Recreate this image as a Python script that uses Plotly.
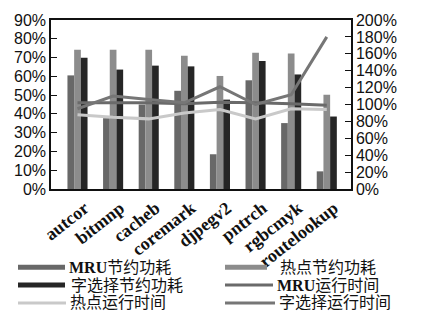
import plotly.graph_objects as go

# Benchmarks
categories = ["autcor", "bitmnp", "cacheb", "coremark", "djpegv2", "pntrch", "rgbcmyk", "routelookup"]

# Power savings (%), left axis
mru_saving = [60.5, 37.7, 45.0, 52.3, 18.5, 57.9, 35.1, 9.4]
hot_saving = [74.1, 74.1, 74.1, 71.0, 60.2, 72.5, 72.2, 50.2]
word_saving = [69.9, 63.6, 65.7, 65.3, 47.6, 68.2, 61.0, 38.6]

# Relative run time (%), right axis
mru_time = [102, 102, 102, 101, 102.6, 102, 101, 99]
hot_time = [88, 85, 83, 90, 94, 83, 95, 94]
word_time = [95, 110, 106, 102, 121, 100, 111.5, 180]

left_ticks = list(range(0, 91, 10))
right_ticks = list(range(0, 201, 20))

C_MRU_BAR = "#686868"
C_HOT_BAR = "#8c8c8c"
C_WORD_BAR = "#262626"
C_MRU_LINE = "#6a6a6a"
C_HOT_LINE = "#c9c9c9"
C_WORD_LINE = "#767676"

fig = go.Figure()
for name, vals, col in [("MRU节约功耗", mru_saving, C_MRU_BAR),
                        ("热点节约功耗", hot_saving, C_HOT_BAR),
                        ("字选择节约功耗", word_saving, C_WORD_BAR)]:
    fig.add_trace(go.Bar(x=categories, y=vals, name=name, marker_color=col,
                         marker_line_width=0, yaxis="y", showlegend=False))

for name, vals, col in [("MRU运行时间", mru_time, C_MRU_LINE),
                        ("热点运行时间", hot_time, C_HOT_LINE),
                        ("字选择运行时间", word_time, C_WORD_LINE)]:
    fig.add_trace(go.Scatter(x=categories, y=vals, name=name, mode="lines",
                             line=dict(color=col, width=3), yaxis="y2", showlegend=False))

W, H = 421, 322
ML, MR, MT, MB = 51, 70, 14, 133
PW, PH = W - ML - MR, H - MT - MB


def px(x):
    return (x - ML) / PW


def py(y):
    return (H - MB - y) / PH


# Legend drawn as line samples plus labels
legend_items = [
    ("<b>MRU</b>节约功耗", C_MRU_BAR, 5, 18, 65, 67, 270),
    ("热点节约功耗", C_HOT_BAR, 5, 225, 267, 278, 270),
    ("字选择节约功耗", C_WORD_BAR, 5, 18, 65, 69, 288.5),
    ("<b>MRU</b>运行时间", C_MRU_LINE, 3, 225, 273, 275, 288.5),
    ("热点运行时间", C_HOT_LINE, 3, 18, 66, 68, 307),
    ("字选择运行时间", C_WORD_LINE, 3, 225, 275, 277, 307),
]
shapes = []
annotations = []
for text, col, lw, x0, x1, tx, yy in legend_items:
    shapes.append(dict(type="line", xref="paper", yref="paper",
                       x0=px(x0), x1=px(x1), y0=py(yy), y1=py(yy),
                       line=dict(color=col, width=lw)))
    annotations.append(dict(text=text, xref="paper", yref="paper", x=px(tx), y=py(yy),
                            xanchor="left", yanchor="middle", showarrow=False,
                            font=dict(family="Liberation Serif, Noto Sans CJK SC", size=16, color="#111")))

tick_font = dict(family="Liberation Sans, Arial", size=16, color="#111")

fig.update_layout(
    width=W, height=H,
    margin=dict(l=ML, r=MR, t=MT, b=MB, pad=0),
    paper_bgcolor="white", plot_bgcolor="white",
    barmode="group", bargap=0.436, bargroupgap=0,
    showlegend=False,
    shapes=shapes, annotations=annotations,
    xaxis=dict(type="category", range=[-0.744, 7.68], showline=True, mirror=True,
               linecolor="#111", linewidth=1.5, ticks="", showgrid=False,
               tickangle=-38, ticklabelshift=7,
               tickfont=dict(family="Liberation Serif", size=18, color="#111", weight="bold")),
    yaxis=dict(range=[0, 90], tickvals=left_ticks, ticktext=[f"{v}%" for v in left_ticks],
               showline=True, linecolor="#111", linewidth=1.5, ticks="inside", ticklen=6,
               tickcolor="#111", showgrid=False, zeroline=False, tickfont=tick_font),
    yaxis2=dict(range=[0, 200], tickvals=right_ticks, ticktext=[f"{v}%" for v in right_ticks],
                overlaying="y", side="right", showline=True, linecolor="#111", linewidth=1.5,
                ticks="inside", ticklen=6, tickcolor="#111", showgrid=False, zeroline=False,
                tickfont=tick_font),
)

fig.write_html("out.html")
